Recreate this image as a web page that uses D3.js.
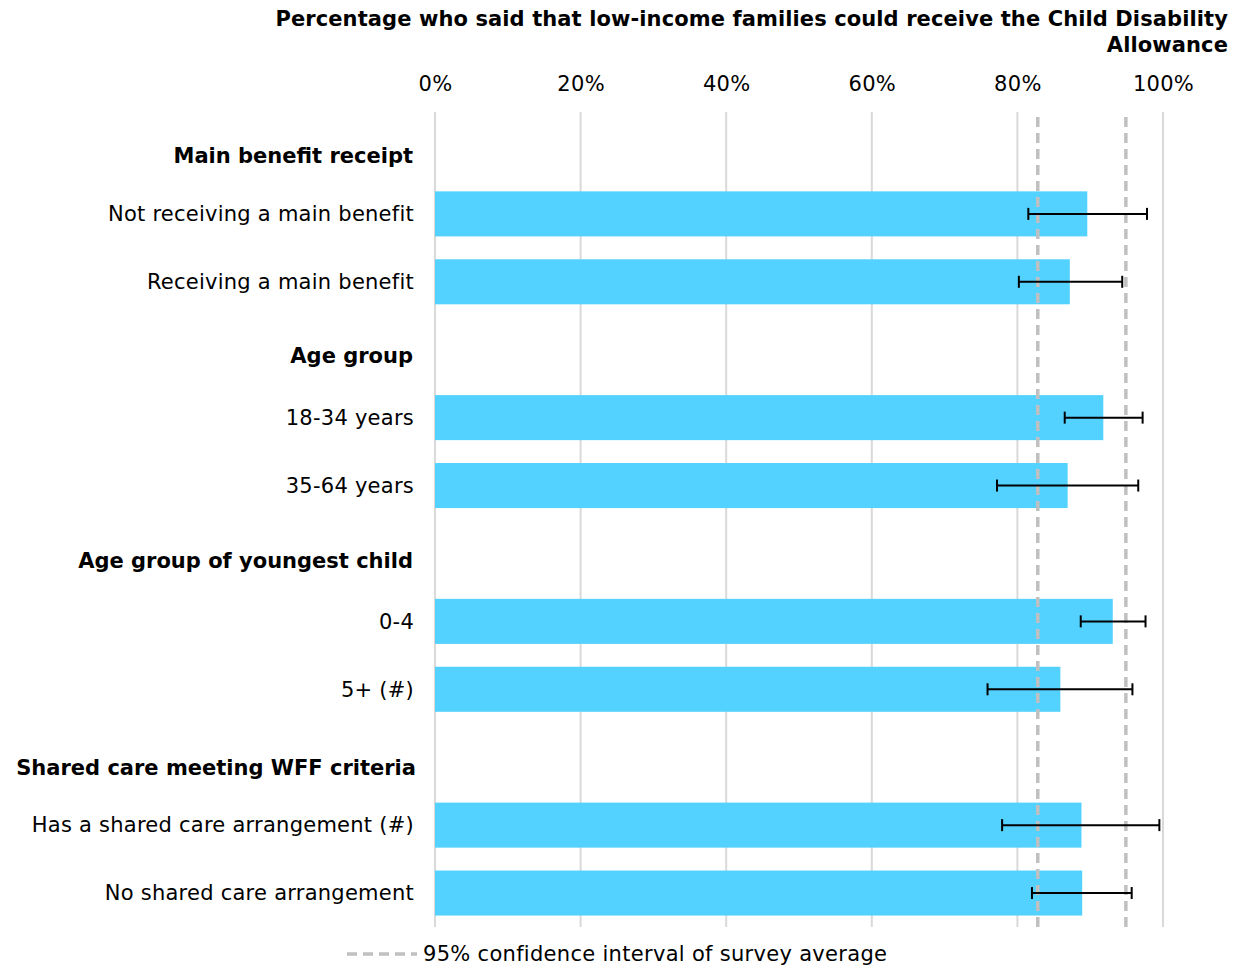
<!DOCTYPE html>
<html>
<head>
<meta charset="utf-8">
<script src="https://cdn.jsdelivr.net/npm/d3@7"></script>
<style>
  html, body { margin: 0; padding: 0; background: #fff; }
  svg { display: block; font-family: "DejaVu Sans", Verdana, sans-serif; }
</style>
</head>
<body>
<div id="chart"></div>
<script>
// Row layout: group headings (no bar) followed by their categories
const rows = [
  "Main benefit receipt",
  "Not receiving a main benefit",
  "Receiving a main benefit",
  "Age group",
  "18-34 years",
  "35-64 years",
  "Age group of youngest child",
  "0-4",
  "5+ (#)",
  "Shared care meeting WFF criteria",
  "Has a shared care arrangement (#)",
  "No shared care arrangement"
];
const headings = ["Main benefit receipt", "Age group", "Age group of youngest child", "Shared care meeting WFF criteria"];

const categories = [
  "Not receiving a main benefit",
  "Receiving a main benefit",
  "18-34 years",
  "35-64 years",
  "0-4",
  "5+ (#)",
  "Has a shared care arrangement (#)",
  "No shared care arrangement"
];
const values = [89.6, 87.2, 91.8, 86.9, 93.1, 85.9, 88.8, 88.9];
const lower  = [81.5, 80.2, 86.5, 77.2, 88.7, 75.9, 77.9, 82.0];
const upper  = [97.8, 94.4, 97.2, 96.6, 97.6, 95.8, 99.5, 95.7];

// Survey average 95% confidence interval
const averageCI = [82.8, 94.9];

const xTicks = [0, 20, 40, 60, 80, 100];
const titleLines = [
  "Percentage who said that low-income families could receive the Child Disability",
  "Allowance"
];
const legendLabel = "95% confidence interval of survey average";

const W = 1253, H = 968;
const FS = 21;
const svg = d3.select("#chart").append("svg").attr("width", W).attr("height", H);

const x = d3.scaleLinear().domain([0, 100]).range([435, 1163]);
const y = d3.scaleBand().domain(rows).range([112, 927]).paddingInner(0.337).paddingOuter(0.1685);

const barColor = "#53d2ff";
const gridColor = "#d9d9d9";
const dashColor = "#c0c0c0";

// Title
svg.append("g").selectAll("text").data(titleLines).join("text")
  .attr("x", 1228).attr("y", (d, i) => 26 + i * 26)
  .attr("text-anchor", "end")
  .attr("font-size", FS).attr("font-weight", "bold").attr("fill", "#000")
  .attr("letter-spacing", 0.1)
  .text(d => d);

// Axis tick labels across the top
const xAxis = d3.axisTop(x).tickValues(xTicks).tickFormat(d => d + "%").tickSize(0).tickPadding(0);
const ax = svg.append("g").attr("transform", "translate(0,91)").call(xAxis);
ax.select(".domain").remove();
ax.selectAll("text").attr("font-size", FS).attr("fill", "#000")
  .attr("font-family", "DejaVu Sans, Verdana, sans-serif").attr("letter-spacing", 0.3).attr("dy", 0);

// Vertical gridlines
svg.append("g").selectAll("line").data(xTicks).join("line")
  .attr("x1", d => x(d)).attr("x2", d => x(d))
  .attr("y1", 112).attr("y2", 927)
  .attr("stroke", gridColor).attr("stroke-width", 2);

// Bars
svg.append("g").selectAll("rect").data(categories).join("rect")
  .attr("x", x(0))
  .attr("y", d => y(d))
  .attr("width", (d, i) => x(values[i]) - x(0))
  .attr("height", y.bandwidth())
  .attr("fill", barColor);

// Survey average confidence interval (dashed verticals)
svg.append("g").selectAll("line").data(averageCI).join("line")
  .attr("x1", d => x(d)).attr("x2", d => x(d))
  .attr("y1", 117).attr("y2", 929)
  .attr("stroke", dashColor).attr("stroke-width", 3.5)
  .attr("stroke-dasharray", "10,6").attr("stroke-linecap", "butt");

// Error bars
const eb = svg.append("g").attr("stroke", "#000").attr("stroke-width", 2);
categories.forEach((c, i) => {
  const cy = y(c) + y.bandwidth() / 2;
  eb.append("line").attr("x1", x(lower[i])).attr("x2", x(upper[i])).attr("y1", cy).attr("y2", cy);
  eb.append("line").attr("x1", x(lower[i])).attr("x2", x(lower[i])).attr("y1", cy - 6).attr("y2", cy + 6);
  eb.append("line").attr("x1", x(upper[i])).attr("x2", x(upper[i])).attr("y1", cy - 6).attr("y2", cy + 6);
});

// Row labels
const headOffset = { "Main benefit receipt": 10, "Age group": 6, "Age group of youngest child": 7, "Shared care meeting WFF criteria": 10 };
svg.append("g").selectAll("text").data(rows).join("text")
  .attr("x", d => d === "Shared care meeting WFF criteria" ? 416 : (headings.includes(d) ? 413 : 414))
  .attr("y", d => y(d) + y.bandwidth() / 2 + (headOffset[d] || 0))
  .attr("dy", "0.35em")
  .attr("text-anchor", "end")
  .attr("font-size", FS)
  .attr("font-weight", d => headings.includes(d) ? "bold" : "normal")
  .attr("letter-spacing", d => headings.includes(d) ? 0 : 0.25)
  .attr("fill", "#000")
  .text(d => d);

// Legend
const lg = svg.append("g");
lg.append("line").attr("x1", 347).attr("x2", 417).attr("y1", 954).attr("y2", 954)
  .attr("stroke", dashColor).attr("stroke-width", 3.5).attr("stroke-dasharray", "10,6");
lg.append("text").attr("x", 423).attr("y", 954).attr("dy", "0.35em")
  .attr("font-size", FS).attr("letter-spacing", 0.3).attr("fill", "#000").text(legendLabel);
</script>
</body>
</html>
